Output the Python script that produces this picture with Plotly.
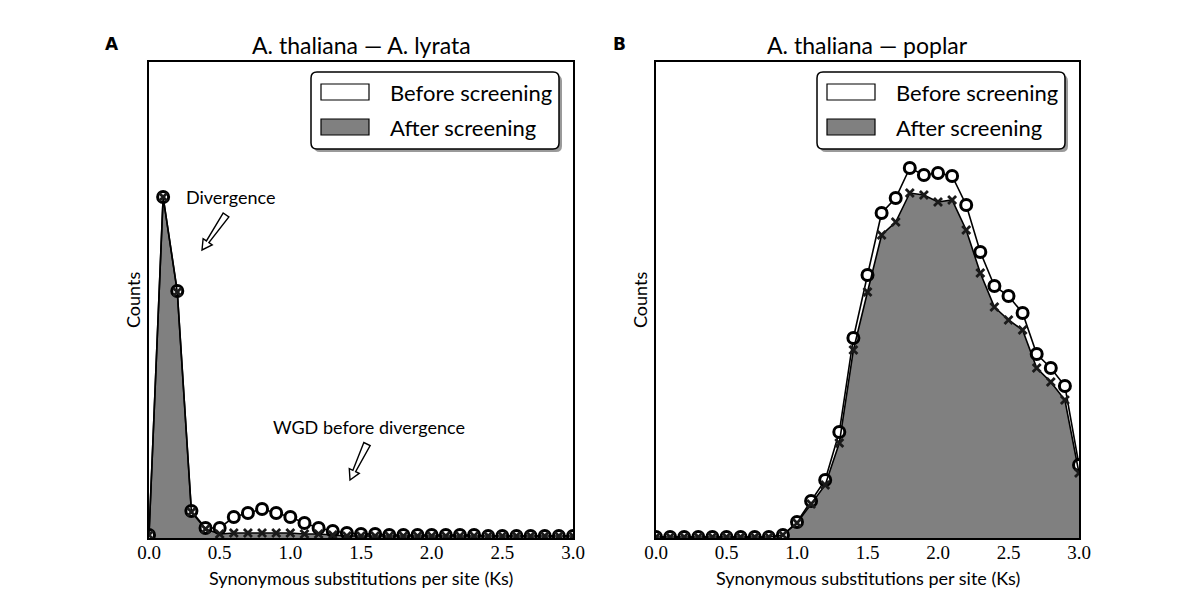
import plotly.graph_objects as go
import math

# ---------------- data ----------------
ks = [round(i * 0.1, 1) for i in range(31)]

a_before = [3, 341, 247, 27, 10, 10, 21, 25, 29, 25, 21, 15, 10, 7, 5, 4,
            4, 3, 3, 3, 3, 3, 3, 3, 2, 2, 2, 2, 2, 2, 2]
a_after = [3, 341, 246, 26, 9, 4, 5, 5, 5, 5, 5, 4, 4, 3, 2, 2,
           2, 2, 2, 2, 2, 2, 2, 2, 2, 2, 2, 2, 2, 2, 2]

b_before = [1, 1, 1, 1, 1, 1, 1, 1, 1, 3, 16, 37, 58, 106, 200, 263,
            325, 340, 370, 363, 365, 362, 333, 286, 252, 242, 225, 184, 170, 152, 73]
b_after = [1, 1, 1, 1, 1, 1, 1, 1, 1, 3, 15, 34, 53, 95, 188, 246,
           303, 316, 345, 343, 336, 338, 308, 265, 231, 218, 208, 170, 156, 138, 65]

titles = ["A. thaliana \u2014 A. lyrata", "A. thaliana \u2014 poplar"]
panel_labels = ["A", "B"]
legend_labels = ["Before screening", "After screening"]
x_title = "Synonymous substitutions per site (Ks)"
y_title = "Counts"
tick_vals = [0.0, 0.5, 1.0, 1.5, 2.0, 2.5, 3.0]
tick_text = ["0.0", "0.5", "1.0", "1.5", "2.0", "2.5", "3.0"]

# ---------------- layout geometry ----------------
W, H = 1200, 600
OFF = 8  # page body margin in the screenshot
Y_TOP, Y_BOT = 62, 538
panels = [(149, 573), (656, 1079)]
YMAX = 476
GRAY = "#808080"
SANS = "Lato, 'Open Sans', sans-serif"
SERIF = "'Liberation Serif', 'DejaVu Serif', serif"


def P(x, y):
    return (x - OFF) / W, 1 - (y - OFF) / H


fig = go.Figure()

series = [(a_before, a_after), (b_before, b_after)]
for i, (bef, aft) in enumerate(series):
    xa = "x" if i == 0 else "x2"
    ya = "y" if i == 0 else "y2"
    fig.add_trace(go.Scatter(x=ks, y=bef, mode="lines", fill="tozeroy",
                             fillcolor="white", line=dict(width=0, color="black"),
                             xaxis=xa, yaxis=ya, showlegend=False, hoverinfo="skip"))
    fig.add_trace(go.Scatter(x=ks, y=aft, mode="lines", fill="tozeroy",
                             fillcolor=GRAY, line=dict(width=0, color="black"),
                             xaxis=xa, yaxis=ya, showlegend=False, hoverinfo="skip"))
    fig.add_trace(go.Scatter(x=ks, y=bef, mode="lines+markers",
                             line=dict(width=1.6, color="black"),
                             marker=dict(symbol="circle", size=11, color="white",
                                         line=dict(width=3, color="black")),
                             xaxis=xa, yaxis=ya, showlegend=False))
    fig.add_trace(go.Scatter(x=ks, y=aft, mode="lines+markers",
                             line=dict(width=1.6, color="black"),
                             marker=dict(symbol="x-thin", size=8, color="#1a1a1a",
                                         line=dict(width=2.8, color="#1a1a1a")),
                             xaxis=xa, yaxis=ya, showlegend=False))

axis_common = dict(showgrid=False, zeroline=False, showline=True, linecolor="black",
                   linewidth=1.6, mirror=True, ticks="", automargin=False)
for i, (x0, x1) in enumerate(panels):
    sfx = "" if i == 0 else "2"
    dx0, _ = P(x0, 0)
    dx1, _ = P(x1, 0)
    _, dyb = P(0, Y_BOT)
    _, dyt = P(0, Y_TOP)
    fig.layout["xaxis" + sfx] = dict(
        axis_common, domain=[dx0, dx1], range=[0, 3.0],
        tickvals=tick_vals, ticktext=tick_text, ticklabelstandoff=-4,
        tickfont=dict(family=SERIF, size=19, color="black"),
        anchor="y" + sfx)
    fig.layout["yaxis" + sfx] = dict(
        axis_common, domain=[dyb, dyt], range=[0, YMAX],
        showticklabels=False, anchor="x" + sfx)

shapes = []
annotations = []


def txt(text, x, y, size, family=SANS, xanchor="center", angle=0):
    px_, py_ = P(x, y)
    annotations.append(dict(text=text, x=px_, y=py_, xref="paper", yref="paper",
                            xanchor=xanchor, yanchor="middle", showarrow=False,
                            textangle=angle,
                            font=dict(family=family, size=size, color="black")))


def rounded_rect(x0, y0, x1, y1, r):
    def p(x, y):
        a, b = P(x, y)
        return f"{a:.5f},{b:.5f}"
    return (f"M {p(x0 + r, y0)} L {p(x1 - r, y0)} Q {p(x1, y0)} {p(x1, y0 + r)} "
            f"L {p(x1, y1 - r)} Q {p(x1, y1)} {p(x1 - r, y1)} "
            f"L {p(x0 + r, y1)} Q {p(x0, y1)} {p(x0, y1 - r)} "
            f"L {p(x0, y0 + r)} Q {p(x0, y0)} {p(x0 + r, y0)} Z")


def hollow_arrow(tail, head, wt=7, ws=3, wh=11, hl=10):
    tx, ty = tail
    hx, hy = head
    dx, dy = hx - tx, hy - ty
    L = math.hypot(dx, dy)
    ux, uy = dx / L, dy / L
    nx, ny = -uy, ux
    bx, by = hx - ux * hl, hy - uy * hl
    pts = [
        (tx + nx * wt / 2, ty + ny * wt / 2),
        (bx + nx * ws / 2, by + ny * ws / 2),
        (bx + nx * wh / 2, by + ny * wh / 2),
        (hx, hy),
        (bx - nx * wh / 2, by - ny * wh / 2),
        (bx - nx * ws / 2, by - ny * ws / 2),
        (tx - nx * wt / 2, ty - ny * wt / 2),
    ]
    return "M " + " L ".join("{:.5f},{:.5f}".format(*P(x, y)) for x, y in pts) + " Z"


for i, (x0, x1) in enumerate(panels):
    cx = (x0 + x1) / 2
    txt(titles[i], cx, 45, 23)
    txt("<b>" + panel_labels[i] + "</b>", x0 - 37, 44, 17, family="DejaVu Sans")
    txt(x_title, cx, 578, 18)
    txt(y_title, x0 - 16, 300, 18, angle=-90)
    lb0, lb1 = x1 - 262, x1 - 14
    shapes.append(dict(type="path", xref="paper", yref="paper",
                       path=rounded_rect(lb0 + 3, 75, lb1 + 3, 152, 6),
                       fillcolor="#9a9a9a", line=dict(width=0)))
    shapes.append(dict(type="path", xref="paper", yref="paper",
                       path=rounded_rect(lb0, 72, lb1, 149, 6),
                       fillcolor="white", line=dict(width=1.5, color="black")))
    for j, (fc, yc) in enumerate([("white", 92), (GRAY, 127)]):
        sx0, sy0 = P(lb0 + 10, yc - 8)
        sx1, sy1 = P(lb0 + 58, yc + 8)
        shapes.append(dict(type="rect", xref="paper", yref="paper",
                           x0=sx0, x1=sx1, y0=sy1, y1=sy0, fillcolor=fc,
                           line=dict(width=1.2, color="black")))
        txt(legend_labels[j], lb0 + 77, yc, 22, xanchor="left")

txt("Divergence", 230, 197, 18)
shapes.append(dict(type="path", xref="paper", yref="paper",
                   path=hollow_arrow((226, 215), (202, 250)),
                   fillcolor="white", line=dict(width=1.4, color="black")))
txt("WGD before divergence", 369, 427, 18)
shapes.append(dict(type="path", xref="paper", yref="paper",
                   path=hollow_arrow((367, 444), (350, 480)),
                   fillcolor="white", line=dict(width=1.4, color="black")))

fig.update_layout(width=W, height=H,
                  margin=dict(l=0, r=0, t=0, b=0, autoexpand=False),
                  paper_bgcolor="white", plot_bgcolor="white",
                  shapes=shapes, annotations=annotations, showlegend=False)

fig.write_html("out.html")
